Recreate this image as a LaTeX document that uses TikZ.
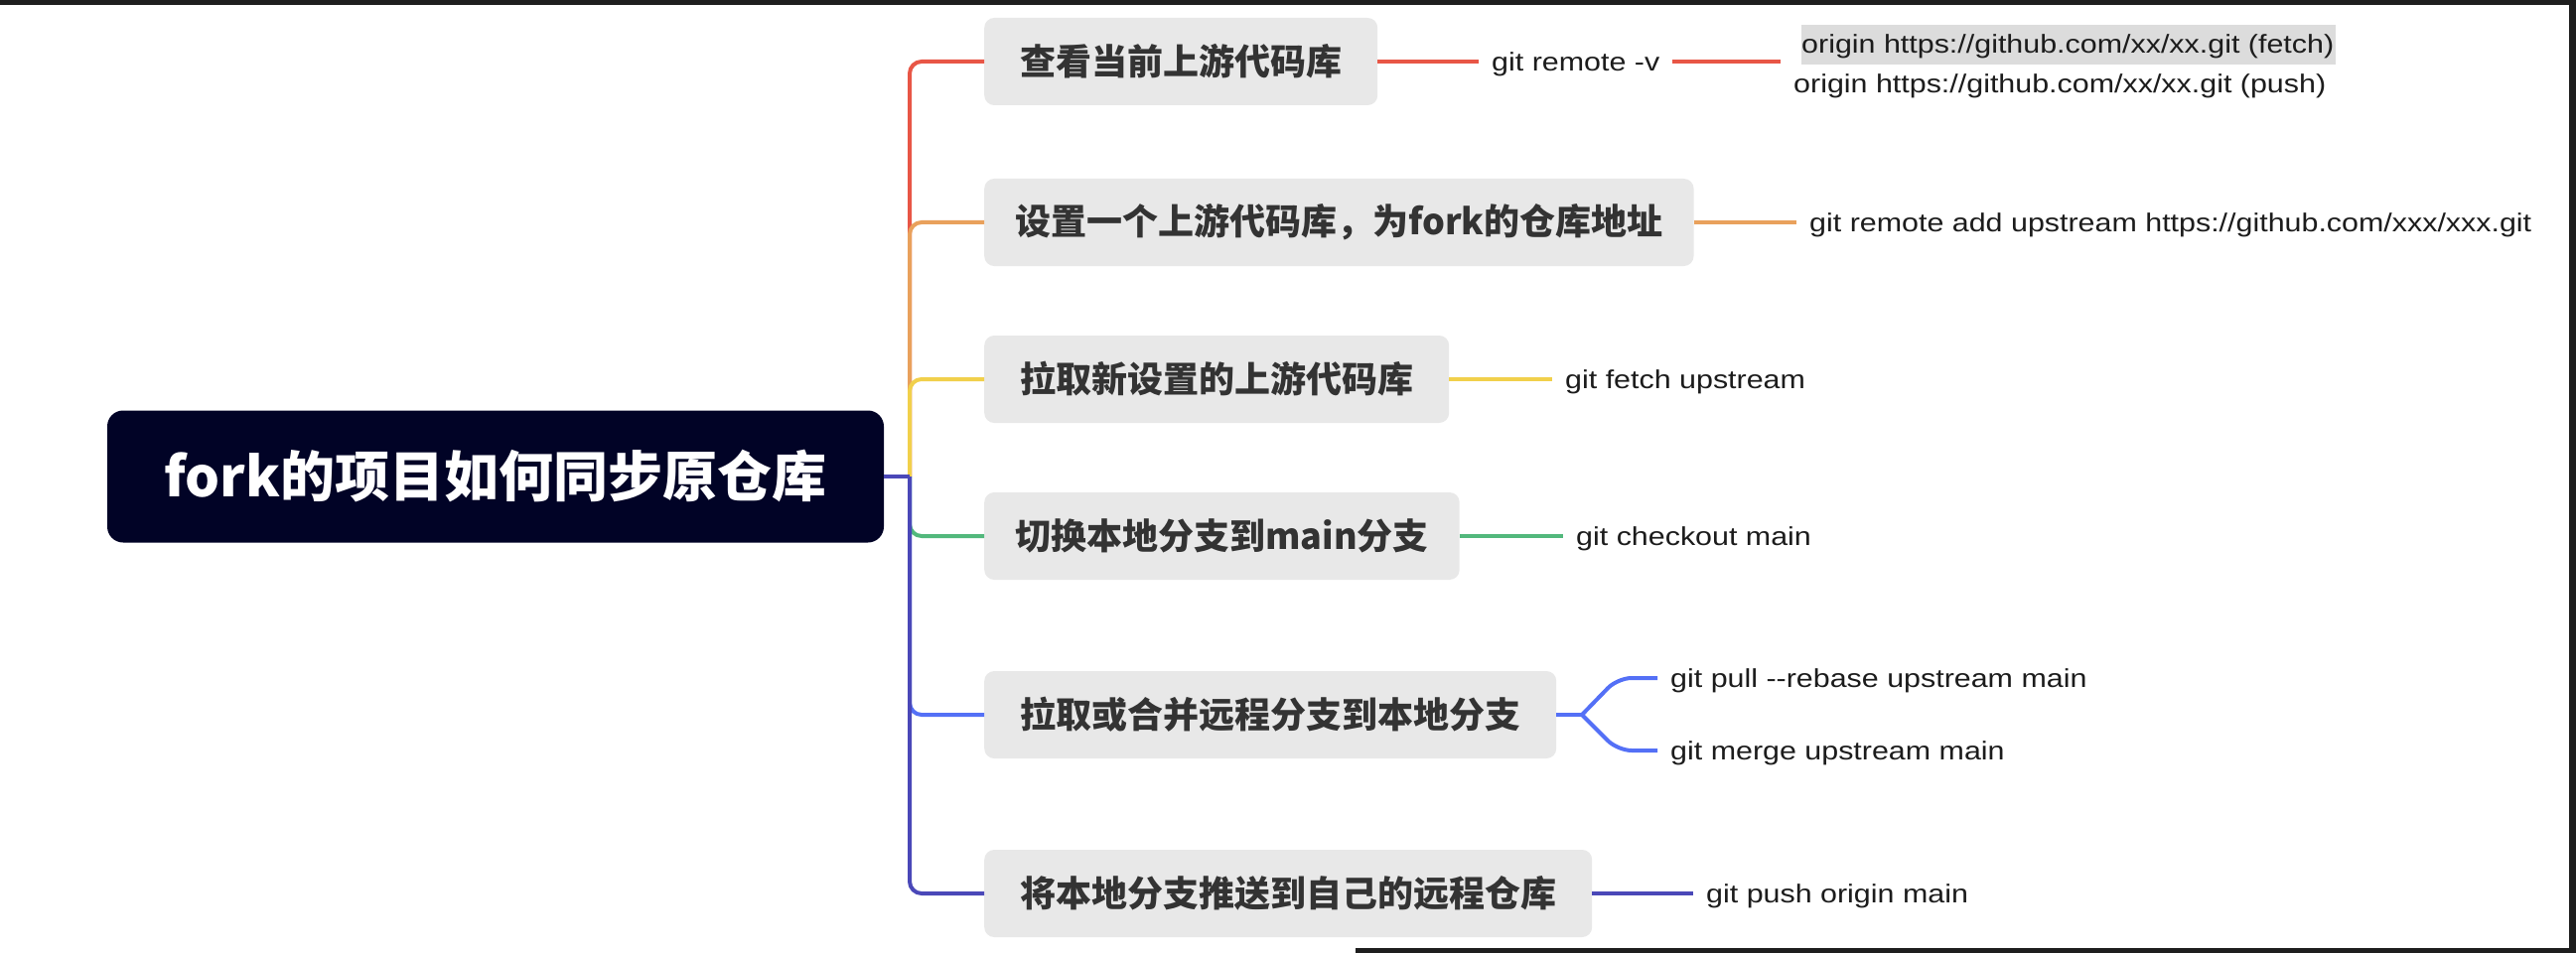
\documentclass[tikz,border=0pt]{standalone}
\usepackage{fontspec}
\setmainfont{Liberation Sans}
\newfontfamily\cjk{Noto Sans CJK SC}
\newfontfamily\leaffont{Liberation Sans}[FakeStretch=1.17]
\definecolor{rootnavy}{HTML}{010326}
\definecolor{boxgray}{HTML}{E8E8E8}
\definecolor{txtgray}{HTML}{333333}
\definecolor{leaftxt}{HTML}{1C1C1C}
\definecolor{cred}{HTML}{E85646}
\definecolor{corange}{HTML}{E9A15C}
\definecolor{cyellow}{HTML}{F1D04B}
\definecolor{cgreen}{HTML}{52B87C}
\definecolor{cblue}{HTML}{5470F6}
\definecolor{cindigo}{HTML}{4A48B8}
\definecolor{hl}{HTML}{DCDCDC}
\definecolor{frame}{HTML}{1E1E1E}
\begin{document}
\begin{tikzpicture}[x=1pt,y=-1pt,
  rootbox/.style={fill=rootnavy, rounded corners=16pt, minimum width=782pt, minimum height=133pt,
    inner sep=0pt, font=\cjk\bfseries\fontsize{55}{60}\selectfont, text=white},
  topic/.style={fill=boxgray, rounded corners=10pt, minimum height=88pt, inner xsep=36pt,
    inner ysep=0pt, anchor=west, font=\cjk\bfseries\fontsize{36}{40}\selectfont, text=txtgray},
  leaf/.style={anchor=west, inner xsep=13pt, inner ysep=0pt,
    font=\leaffont\fontsize{26}{40}\selectfont, text=leaftxt},
  leafline/.style={leaf, text height=22pt, text depth=2.5pt},
  br/.style={line width=4pt, rounded corners=12pt},
  lk/.style={line width=4pt}
]
\useasboundingbox (0,0) rectangle (2594,960);
% screenshot frame
\fill[frame] (0,0) rectangle (2594,5);
\fill[frame] (2587,0) rectangle (2594,960);
\fill[frame] (1365,955) rectangle (2594,960);

% root and topics
\node[rootbox] (root) at (499,480) {fork的项目如何同步原仓库};
\coordinate (hub) at (916,480);
\node[topic] (c1) at (991,62) {查看当前上游代码库};
\node[topic, inner xsep=31pt] (c2) at (991,224) {设置一个上游代码库，为fork的仓库地址};
\node[topic] (c3) at (991,382) {拉取新设置的上游代码库};
\node[topic, inner xsep=31pt] (c4) at (991,540) {切换本地分支到main分支};
\node[topic] (c5) at (991,720) {拉取或合并远程分支到本地分支};
\node[topic] (c6) at (991,900) {将本地分支推送到自己的远程仓库};

% branches
\draw[br, cred] (hub) |- (c1.west);
\draw[br, corange] (hub) |- (c2.west);
\draw[br, cyellow] (hub) |- (c3.west);
\draw[br, cgreen] (hub) |- (c4.west);
\draw[br, cblue] (hub) |- (c5.west);
\draw[br, cindigo] (hub) |- (c6.west);
\draw[lk, cindigo] (root.east) -- (hub);

% leaves
\node[leafline] (l1) at (1489,62) {git remote -v};
\node[leaf, align=left] (l1b) at (1793,62)
  {\hspace*{8pt}{\fboxsep=0pt\colorbox{hl}{\strut origin https://github.com/xx/xx.git (fetch)\hspace*{2pt}}}\\origin https://github.com/xx/xx.git (push)};
\node[leafline] (l2) at (1809,224) {git remote add upstream https://github.com/xxx/xxx.git};
\node[leafline] (l3) at (1563,382) {git fetch upstream};
\node[leafline] (l4) at (1574,540) {git checkout main};
\node[leafline] (l5a) at (1669,683) {git pull -{}-rebase upstream main};
\node[leafline] (l5b) at (1669,756) {git merge upstream main};
\node[leafline] (l6) at (1705,900) {git push origin main};
\coordinate (f5) at (1593,720);

\draw[lk, cred] (c1.east) -- (l1.west);
\draw[lk, cred] (l1.east) -- (l1b.west);
\draw[lk, corange] (c2.east) -- (l2.west);
\draw[lk, cyellow] (c3.east) -- (l3.west);
\draw[lk, cgreen] (c4.east) -- (l4.west);
\draw[lk, cblue] (c5.east) -- (f5);
\draw[lk, cblue, rounded corners=14pt] (f5) -- ([xshift=-40pt]l5a.west) -- (l5a.west);
\draw[lk, cblue, rounded corners=14pt] (f5) -- ([xshift=-40pt]l5b.west) -- (l5b.west);
\draw[lk, cindigo] (c6.east) -- (l6.west);
\end{tikzpicture}
\end{document}
